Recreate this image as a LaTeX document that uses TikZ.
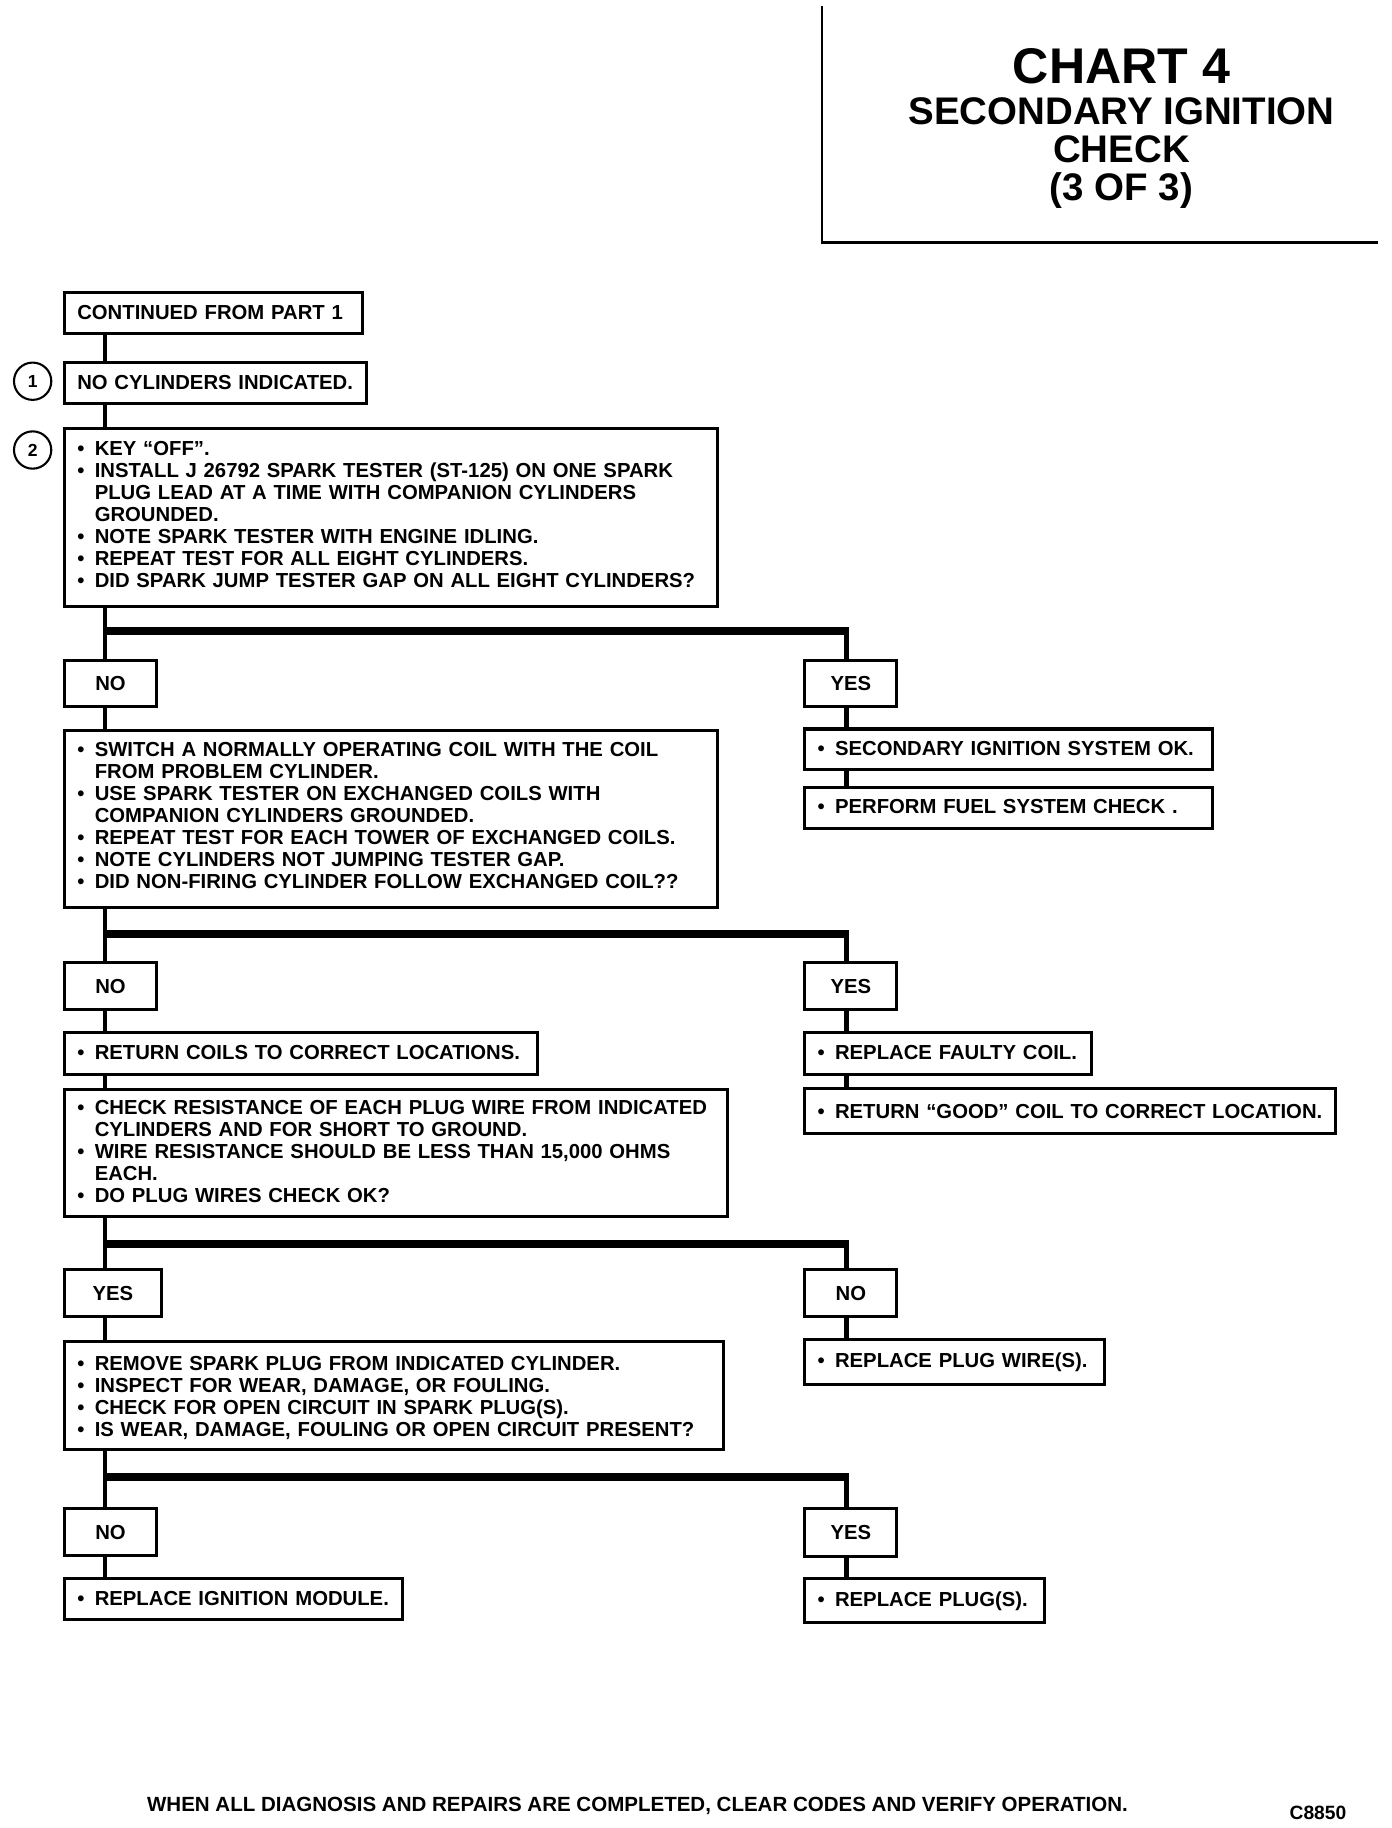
\documentclass[tikz,border=0pt]{standalone}
\usepackage{fontspec}
\setmainfont{Liberation Sans}
\newcommand\bl[1]{\par\noindent\makebox[15pt][l]{\textbullet}\mbox{#1}}
\newcommand\cl[1]{\par\noindent\hspace*{15pt}\mbox{#1}}
\newcommand\tupsp[1]{\par\vspace*{#1}}
\begin{document}
\begin{tikzpicture}[x=1pt,y=-1pt,
  box/.style={draw, line width=2.6pt, inner xsep=11pt, inner ysep=0pt, anchor=north west,
    align=left, font=\fontsize{17.4}{18.8}\selectfont\bfseries},
  tup/.style={execute at end node={\tupsp{#1}}},
  yn/.style={draw, line width=2.6pt, inner sep=0pt, anchor=north west, align=center,
    font=\fontsize{17.4}{18.8}\selectfont\bfseries},
  conn/.style={line width=4pt},
  branchline/.style={line width=6.5pt},
  num/.style={circle, draw, line width=1.8pt, minimum size=32pt, inner sep=0pt,
    font=\fontsize{15}{15}\selectfont\bfseries},
  ttl/.style={anchor=base, font=\fontsize{33}{33}\selectfont\bfseries}]
\useasboundingbox (0,0) rectangle (1194,1568);
% title frame
\coordinate (f1) at (705,5);
\coordinate (f2) at (705,208);
\coordinate (f3) at (1182,208);
\draw[line width=2pt] (f1) -- (f2) -- (f3);
\node[anchor=base, font=\fontsize{43}{43}\selectfont\bfseries] (t1) at (962,72) {CHART 4};
\node[ttl] (t2) at (962,107) {SECONDARY IGNITION};
\node[ttl] (t3) at (962,139) {CHECK};
\node[ttl] (t4) at (962,172) {(3 OF 3)};
% column coordinates
\coordinate (L) at (90,0);
\coordinate (R) at (726,0);
% boxes
\node[box, tup=2pt, minimum width=256pt, minimum height=35pt, text width=234pt] (cont) at (54,250) {\noindent\mbox{CONTINUED FROM PART 1}};
\node[num] (c1) at (28,327) {1};
\node[box, tup=2pt, minimum width=259pt, minimum height=35pt, text width=237pt] (nocyl) at (54,310) {\noindent\mbox{NO CYLINDERS INDICATED.}};
\node[num] (c2) at (28,386) {2};
\node[box, tup=12pt, minimum width=560pt, minimum height=153pt, text width=538pt] (s2) at (54,366) {%
\bl{KEY “OFF”.}
\bl{INSTALL J 26792 SPARK TESTER (ST-125) ON ONE SPARK}
\cl{PLUG LEAD AT A TIME WITH COMPANION CYLINDERS}
\cl{GROUNDED.}
\bl{NOTE SPARK TESTER WITH ENGINE IDLING.}
\bl{REPEAT TEST FOR ALL EIGHT CYLINDERS.}
\bl{DID SPARK JUMP TESTER GAP ON ALL EIGHT CYLINDERS?}};
\node[yn, minimum width=79pt, minimum height=40pt] (no1) at (54,565) {NO};
\node[yn, minimum width=79pt, minimum height=40pt] (yes1) at (689,565) {YES};
\node[box, tup=12pt, minimum width=560pt, minimum height=152pt, text width=538pt] (s3) at (54,625) {%
\bl{SWITCH A NORMALLY OPERATING COIL WITH THE COIL}
\cl{FROM PROBLEM CYLINDER.}
\bl{USE SPARK TESTER ON EXCHANGED COILS WITH}
\cl{COMPANION CYLINDERS GROUNDED.}
\bl{REPEAT TEST FOR EACH TOWER OF EXCHANGED COILS.}
\bl{NOTE CYLINDERS NOT JUMPING TESTER GAP.}
\bl{DID NON-FIRING CYLINDER FOLLOW EXCHANGED COIL??}};
\node[box, tup=9pt, minimum width=350pt, minimum height=35pt, text width=328pt] (ok) at (689,624) {\bl{SECONDARY IGNITION SYSTEM OK.}};
\node[box, tup=9pt, minimum width=350pt, minimum height=35pt, text width=328pt] (fuel) at (689,674) {\bl{PERFORM FUEL SYSTEM CHECK .}};
\node[yn, minimum width=79pt, minimum height=41pt] (no2) at (54,824) {NO};
\node[yn, minimum width=79pt, minimum height=41pt] (yes2) at (689,824) {YES};
\node[box, tup=8pt, minimum width=406pt, minimum height=36pt, text width=384pt] (ret) at (54,884) {\bl{RETURN COILS TO CORRECT LOCATIONS.}};
\node[box, tup=8pt, minimum width=246pt, minimum height=36pt, text width=224pt] (faulty) at (689,884) {\bl{REPLACE FAULTY COIL.}};
\node[box, tup=6pt, minimum width=455pt, minimum height=39pt, text width=433pt] (good) at (689,932) {\bl{RETURN “GOOD” COIL TO CORRECT LOCATION.}};
\node[box, tup=9pt, minimum width=569pt, minimum height=109pt, text width=547pt] (s4) at (54,933) {%
\bl{CHECK RESISTANCE OF EACH PLUG WIRE FROM INDICATED}
\cl{CYLINDERS AND FOR SHORT TO GROUND.}
\bl{WIRE RESISTANCE SHOULD BE LESS THAN 15,000 OHMS}
\cl{EACH.}
\bl{DO PLUG WIRES CHECK OK?}};
\node[yn, minimum width=83pt, minimum height=40pt] (yes3) at (54,1088) {YES};
\node[yn, minimum width=79pt, minimum height=40pt] (no3) at (689,1088) {NO};
\node[box, tup=2pt, minimum width=565pt, minimum height=93pt, text width=543pt] (s5) at (54,1149) {%
\bl{REMOVE SPARK PLUG FROM INDICATED CYLINDER.}
\bl{INSPECT FOR WEAR, DAMAGE, OR FOULING.}
\bl{CHECK FOR OPEN CIRCUIT IN SPARK PLUG(S).}
\bl{IS WEAR, DAMAGE, FOULING OR OPEN CIRCUIT PRESENT?}};
\node[box, tup=6pt, minimum width=257pt, minimum height=38pt, text width=235pt] (wire) at (689,1148) {\bl{REPLACE PLUG WIRE(S).}};
\node[yn, minimum width=79pt, minimum height=40pt] (no4) at (54,1293) {NO};
\node[yn, minimum width=79pt, minimum height=41pt] (yes4) at (689,1293) {YES};
\node[box, tup=8pt, minimum width=290pt, minimum height=35pt, text width=268pt] (mod) at (54,1353) {\bl{REPLACE IGNITION MODULE.}};
\node[box, tup=4pt, minimum width=206pt, minimum height=37pt, text width=184pt] (plugs) at (689,1353) {\bl{REPLACE PLUG(S).}};
% footer
\node[anchor=base west, inner sep=0pt, font=\fontsize{17.6}{18}\selectfont\bfseries] (foot) at (126,1554) {WHEN ALL DIAGNOSIS AND REPAIRS ARE COMPLETED, CLEAR CODES AND VERIFY OPERATION.};
\node[anchor=base west, inner sep=0pt, font=\fontsize{16.5}{17}\selectfont\bfseries] (code) at (1106,1561) {C8850};
% branch points
\coordinate (b1) at (90,541);
\coordinate (b2) at (90,801);
\coordinate (b3) at (90,1067);
\coordinate (b4) at (90,1267);
% connectors left column
\draw[conn] (cont.south -| L) -- (nocyl.north -| L);
\draw[conn] (nocyl.south -| L) -- (s2.north -| L);
\draw[conn] (s2.south -| L) -- (no1.north -| L);
\draw[conn] (no1.south -| L) -- (s3.north -| L);
\draw[conn] (s3.south -| L) -- (no2.north -| L);
\draw[conn] (no2.south -| L) -- (ret.north -| L);
\draw[conn] (ret.south -| L) -- (s4.north -| L);
\draw[conn] (s4.south -| L) -- (yes3.north -| L);
\draw[conn] (yes3.south -| L) -- (s5.north -| L);
\draw[conn] (s5.south -| L) -- (no4.north -| L);
\draw[conn] (no4.south -| L) -- (mod.north -| L);
% branches
\draw[branchline, shorten >=-2pt] (b1) -- (b1 -| R);
\draw[conn, shorten <=-3pt] (b1 -| R) -- (yes1.north -| R);
\draw[branchline, shorten >=-2pt] (b2) -- (b2 -| R);
\draw[conn, shorten <=-3pt] (b2 -| R) -- (yes2.north -| R);
\draw[branchline, shorten >=-2pt] (b3) -- (b3 -| R);
\draw[conn, shorten <=-3pt] (b3 -| R) -- (no3.north -| R);
\draw[branchline, shorten >=-2pt] (b4) -- (b4 -| R);
\draw[conn, shorten <=-3pt] (b4 -| R) -- (yes4.north -| R);
% right column
\draw[conn] (yes1.south -| R) -- (ok.north -| R);
\draw[conn] (ok.south -| R) -- (fuel.north -| R);
\draw[conn] (yes2.south -| R) -- (faulty.north -| R);
\draw[conn] (faulty.south -| R) -- (good.north -| R);
\draw[conn] (no3.south -| R) -- (wire.north -| R);
\draw[conn] (yes4.south -| R) -- (plugs.north -| R);
\end{tikzpicture}
\end{document}
